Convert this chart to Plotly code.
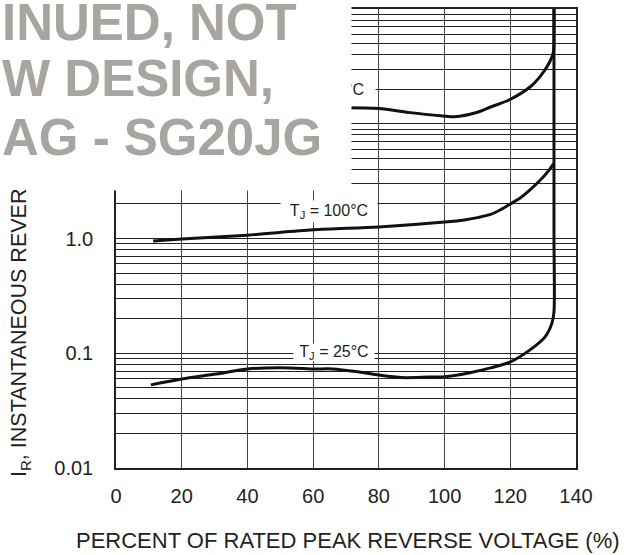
import plotly.graph_objects as go

# ---- data ----
pct_25 = [10.6, 20, 30.5, 40, 53, 60, 66, 74, 80, 87, 95, 100, 107, 114, 120, 126, 130.6, 132.7, 133.3, 133.3, 133.3, 133.3]
ir_25 = [0.053, 0.0597, 0.0659, 0.073, 0.0745, 0.073, 0.073, 0.0686, 0.0646, 0.0614, 0.062, 0.0625, 0.067, 0.0745, 0.084, 0.107, 0.139, 0.184, 0.23, 1.0, 10.0, 100.0]

pct_100 = [11.3, 20, 40, 60, 80, 100, 106, 110, 114, 117, 120, 123, 126, 129, 131.5, 133.2]
ir_100 = [0.95, 0.99, 1.07, 1.19, 1.26, 1.39, 1.45, 1.52, 1.62, 1.78, 2.0, 2.25, 2.65, 3.2, 3.85, 4.5]

pct_150 = [69, 80, 89.5, 99.5, 103, 110, 114, 119.6, 126, 129, 132, 133.1, 133.3, 133.3]
ir_150 = [13.8, 13.6, 12.5, 11.7, 11.5, 12.6, 14.0, 16.1, 20.9, 25.6, 34.5, 42.0, 60.0, 100.0]

x_ticks = [0, 20, 40, 60, 80, 100, 120, 140]
y_ticks = [0.01, 0.1, 1.0]
y_tick_labels = ["0.01", "0.1", "1.0"]
y_decades = [0.01, 0.1, 1.0, 10.0]

x_title = "PERCENT OF RATED PEAK REVERSE VOLTAGE (%)"
y_title = "I<sub>R</sub>, INSTANTANEOUS REVER"
watermark_lines = ["INUED, NOT", "W DESIGN,", "AG - SG20JG"]
labels = ["T<sub>J</sub> = 150°C", "T<sub>J</sub> = 100°C", "T<sub>J</sub> = 25°C"]

# ---- layout constants ----
W, H = 627, 555
L, R, T, B = 116, 51, 9, 87
PW, PH = W - L - R, H - T - B
FONT = "Liberation Sans, Arial, sans-serif"
TXT = "#231F20"


def px(xp):
    return (xp - L) / PW


def py(yp):
    return (H - B - yp) / PH


# minor grid values: 2..9 of each decade plus the top decade
minor_vals = [d * m for d in y_decades for m in range(2, 10)] + [10.0, 100.0]

fig = go.Figure()
for xs, ys in [(pct_25, ir_25), (pct_100, ir_100), (pct_150, ir_150)]:
    fig.add_trace(go.Scatter(x=xs, y=ys, mode="lines",
                             line=dict(color="#111111", width=3, shape="spline", smoothing=0.8),
                             hoverinfo="skip", showlegend=False))

fig.update_layout(
    width=W, height=H,
    margin=dict(l=L, r=R, t=T, b=B, pad=0, autoexpand=False),
    paper_bgcolor="white", plot_bgcolor="white",
    font=dict(family=FONT, color=TXT),
    showlegend=False,
)
fig.update_xaxes(range=[0, 140], tickvals=x_ticks, ticktext=[str(v) for v in x_ticks],
                 showgrid=True, gridcolor="#444444", gridwidth=1.3,
                 showline=True, linecolor="#222222", linewidth=1.5, mirror=True,
                 ticks="outside", ticklen=9, tickcolor="rgba(0,0,0,0)",
                 tickfont=dict(size=20, color=TXT, family=FONT), zeroline=False,
                 automargin=False)
fig.update_yaxes(type="log", range=[-2, 2], tickvals=y_ticks, ticktext=y_tick_labels,
                 showgrid=True, gridcolor="#222222", gridwidth=1.3,
                 minor=dict(tickvals=minor_vals, showgrid=True, gridcolor="#222222",
                            gridwidth=1.3, ticks=""),
                 showline=True, linecolor="#222222", linewidth=1.5, mirror=True,
                 ticks="outside", ticklen=17, tickcolor="rgba(0,0,0,0)",
                 tickfont=dict(size=20, color=TXT, family=FONT), zeroline=False,
                 automargin=False)

ann = []
# 150 °C label (mostly hidden by the watermark panel)
ann.append(dict(text=labels[0], x=px(325), y=py(91), xref="paper", yref="paper",
                showarrow=False, font=dict(size=16, color=TXT, family=FONT),
                bgcolor="white", width=100, height=20, borderpad=0,
                xanchor="center", yanchor="middle"))
# first watermark line carries the white panel that hides the upper-left corner
ann.append(dict(text="<b>%s</b>" % watermark_lines[0], x=px(1), y=py(-7),
                xref="paper", yref="paper", showarrow=False,
                font=dict(size=51, color="#A8A5A0", family=FONT),
                bgcolor="white", width=349, height=196, borderpad=0,
                align="left", valign="top", xanchor="left", yanchor="top"))
for line, yc in zip(watermark_lines[1:], [78.5, 137]):
    ann.append(dict(text="<b>%s</b>" % line, x=px(1), y=py(yc), xref="paper", yref="paper",
                    showarrow=False, font=dict(size=51, color="#A8A5A0", family=FONT),
                    xanchor="left", yanchor="middle", borderpad=0))
# curve labels
ann.append(dict(text=labels[1], x=px(329), y=py(211), xref="paper", yref="paper",
                showarrow=False, font=dict(size=16, color=TXT, family=FONT),
                bgcolor="white", width=96, height=21, borderpad=0,
                xanchor="center", yanchor="middle"))
ann.append(dict(text=labels[2], x=px(334), y=py(352.5), xref="paper", yref="paper",
                showarrow=False, font=dict(size=16, color=TXT, family=FONT),
                bgcolor="white", width=80, height=17, borderpad=0,
                xanchor="center", yanchor="middle"))
# axis titles (upper part of the y title is hidden in the reference)
ann.append(dict(text=y_title, x=px(20), y=py(478),
                xref="paper", yref="paper", showarrow=False, textangle=-90,
                font=dict(size=21.5, color=TXT, family=FONT),
                xanchor="center", yanchor="bottom", borderpad=0))
ann.append(dict(text=x_title, x=px(348), y=py(540),
                xref="paper", yref="paper", showarrow=False,
                font=dict(size=22, color=TXT, family=FONT),
                xanchor="center", yanchor="middle", borderpad=0))
fig.update_layout(annotations=ann)

fig.write_html("out.html")
